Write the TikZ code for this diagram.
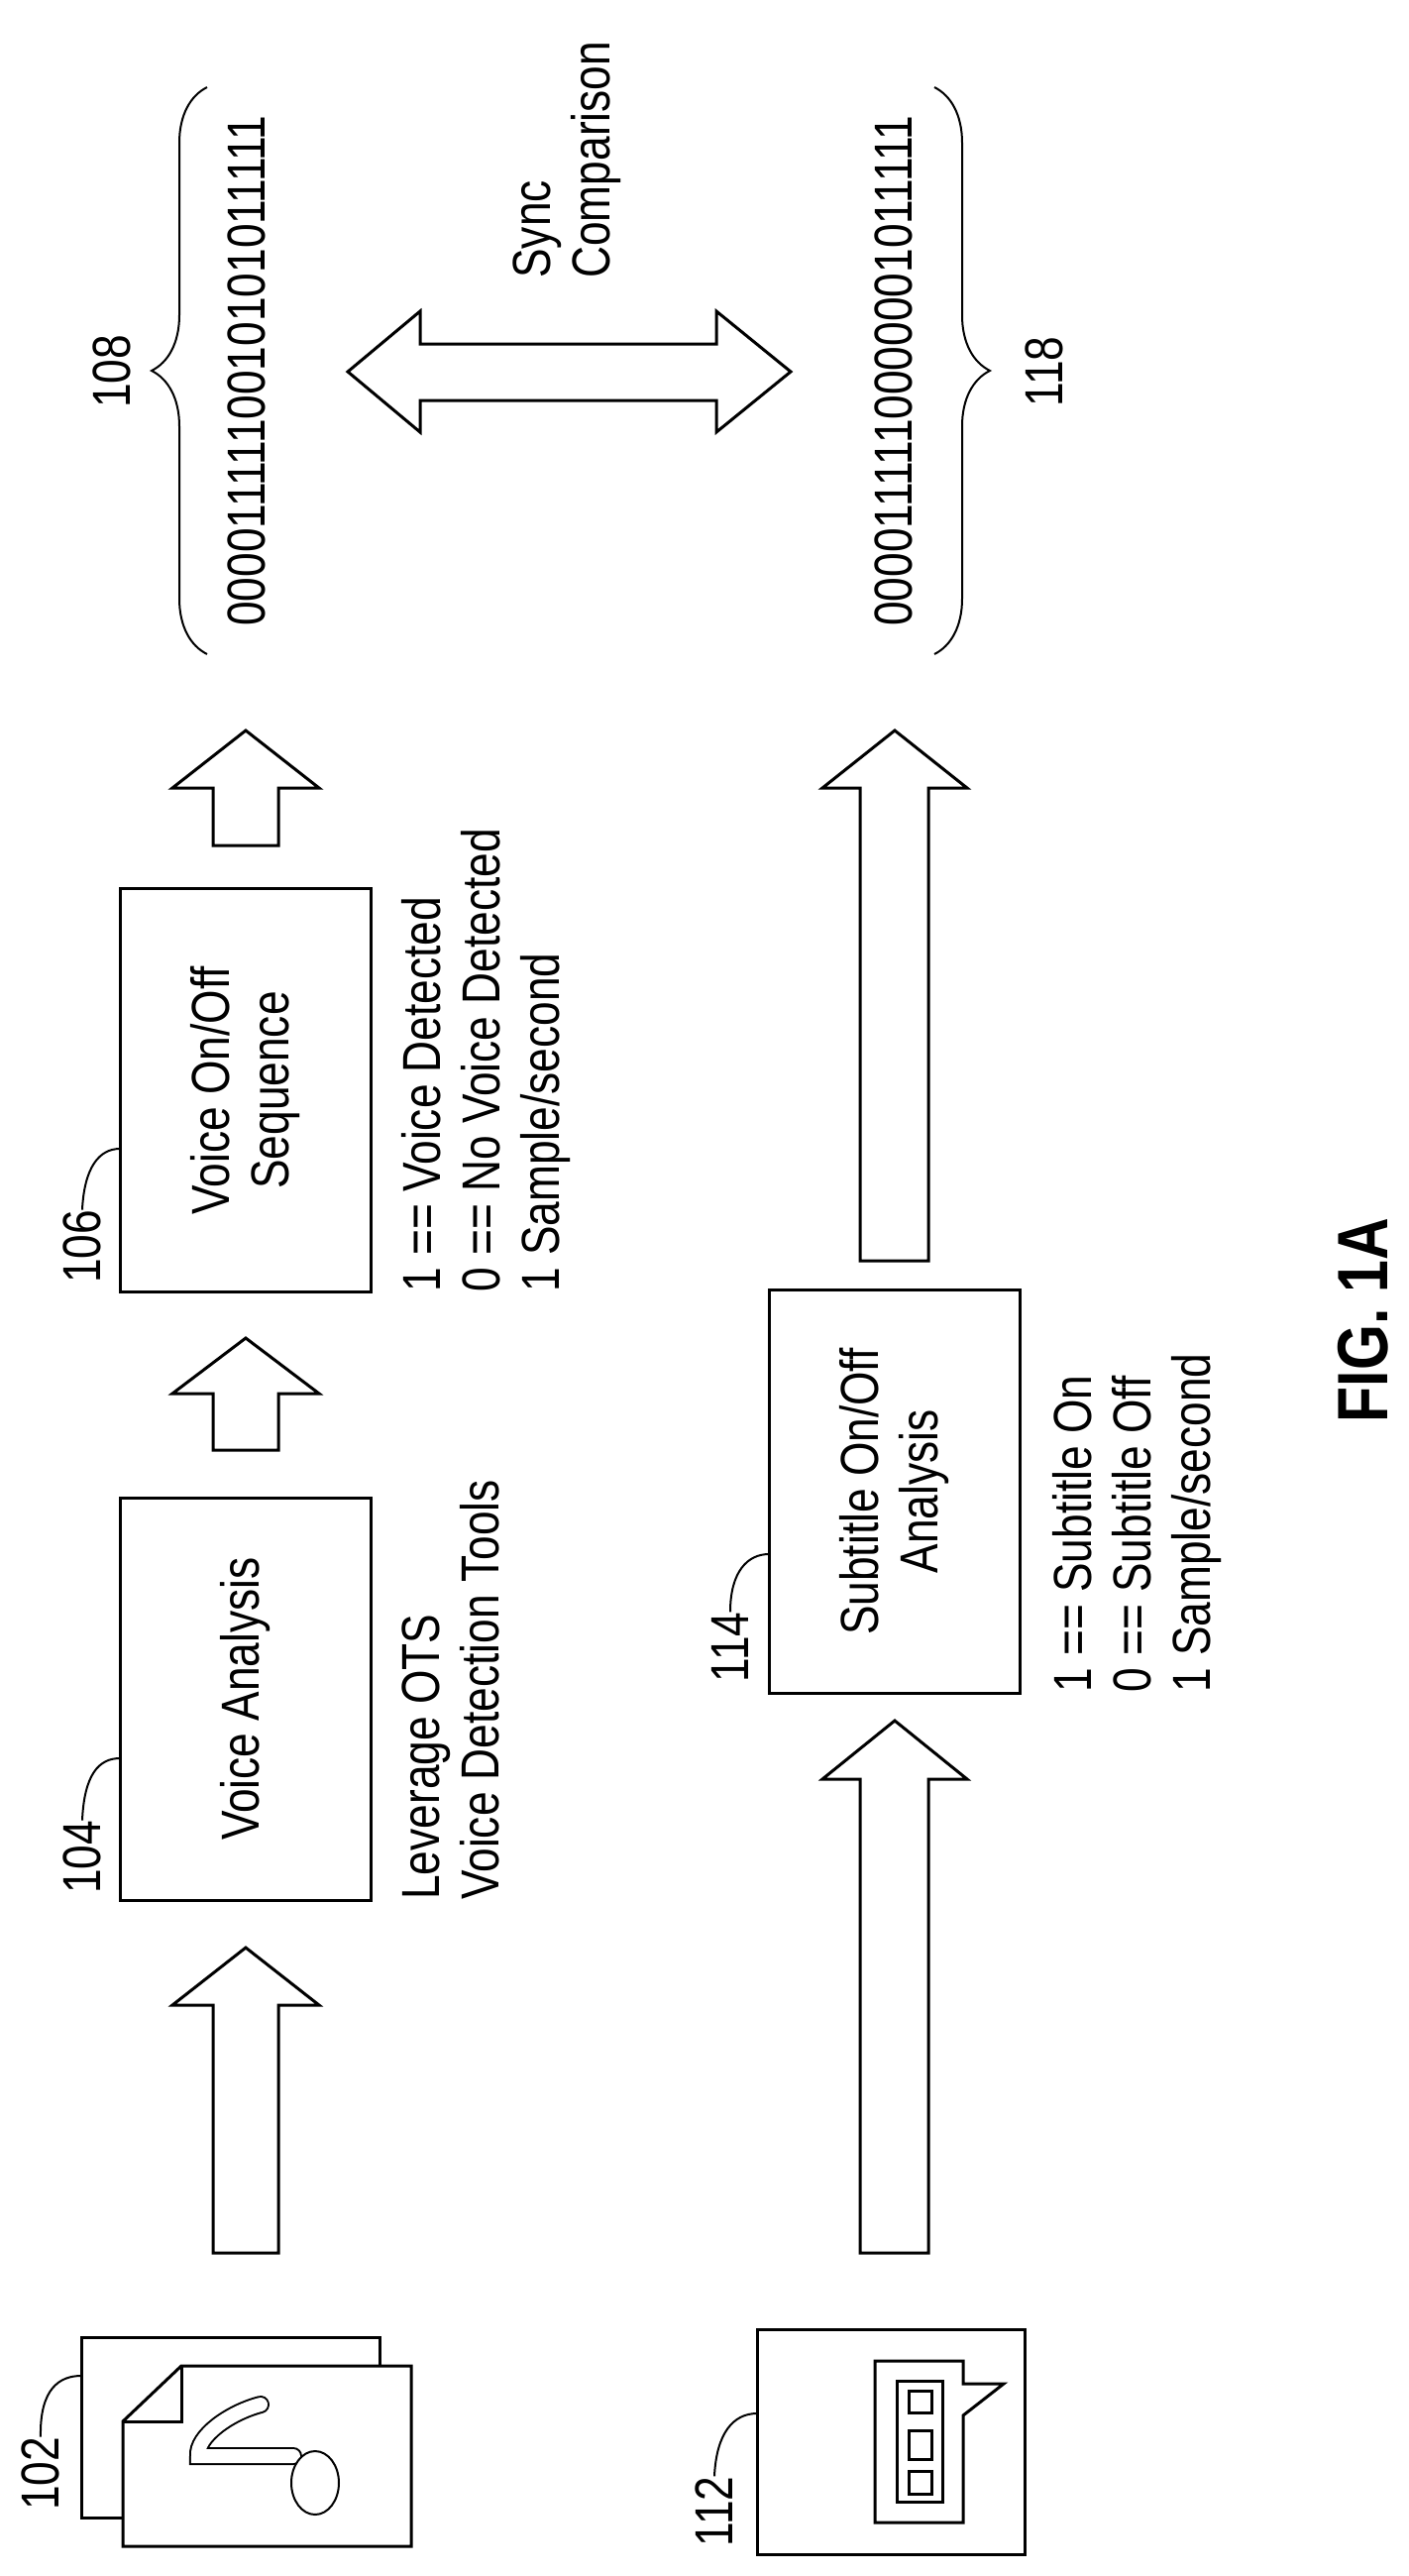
\documentclass[tikz,border=0pt]{standalone}
\usepackage{fontspec}
\setmainfont{Liberation Sans}[FakeStretch=0.82]
\usetikzlibrary{decorations.pathreplacing}
\begin{document}
\begin{tikzpicture}[x=0.5pt,y=-0.5pt,
    txt/.style={rotate=90,inner sep=0pt,font=\fontsize{27}{30}\selectfont},
    box/.style={draw,line width=1.5pt,rotate=90,align=center,
        font=\fontsize{27}{30}\selectfont},
    blk/.style={draw,line width=1.5pt,fill=white,line join=miter},
    lead/.style={line width=1pt}]
\useasboundingbox (0,0) rectangle (1421,2599);
                % boxes
                \node[box,minimum width=203pt,minimum height=126.5pt] (voice) at(248,1714){Voice Analysis};
                \node[box,minimum width=203.5pt,minimum height=126.5pt] (onoff) at(248,1100){Voice On/Off\\Sequence};
                \node[box,minimum width=203.5pt,minimum height=126.5pt] (subtitle) at(903,1505){Subtitle On/Off\\Analysis};
                % reference numerals
                \node[txt] (l102) at(41,2496){102};
                \node[txt] (l104) at(83,1874){104};
                \node[txt] (l106) at(83,1258){106};
                \node[txt] (l112) at(721,2534){112};
                \node[txt] (l114) at(737,1662){114};
                \node[txt] (l108) at(113,375){108};
                \node[txt] (l118) at(1054,375){118};
                \draw[lead] (l102.east) .. controls (40,2410) and (60,2397) .. (82,2397);
                \draw[lead] (l104.east) .. controls (85,1790) and (100,1774) .. (121,1774);
                \draw[lead] (l106.east) .. controls (85,1178) and (100,1159) .. (121,1159);
                \draw[lead] (l112.east) .. controls (723,2455) and (740,2435) .. (764,2435);
                \draw[lead] (l114.east) .. controls (737,1585) and (755,1568) .. (776,1568);
                % notes
                \node[txt,anchor=north west,align=left] (notes1) at(405,1917){Leverage OTS\\Voice Detection Tools};
                \node[txt,anchor=north west,align=left] (notes2) at(405,1304){1 == Voice Detected\\0 == No Voice Detected\\1 Sample/second};
                \node[txt,anchor=north west,align=left] (notes3) at(1062,1708){1 == Subtitle On\\0 == Subtitle Off\\1 Sample/second};
                \node[txt,anchor=north west,align=left] (sync) at(517,281){Sync\\Comparison};
                \node[txt,font=\bfseries\fontsize{36}{40}\selectfont] (fig) at(1376,1332){FIG. 1A};
                % bit sequences
                \node[txt] (seq1) at(249,374){0000111110010101011111};
                \node[txt] (seq2) at(902,374){0000111110000001011111};
                \draw[line width=1pt,decorate,decoration={brace,amplitude=28pt,aspect=0.5}] (209,660) -- (209,88);
                \draw[line width=1pt,decorate,decoration={brace,amplitude=28pt,aspect=0.5}] (943,88) -- (943,660);
                % block arrows
                \draw[blk] (215,2273)--(215,2023)--(174,2023)--(248,1965)--(322,2023)--(281,2023)--(281,2273)--cycle;
                \draw[blk] (215,1463)--(215,1406)--(174,1406)--(248,1350)--(322,1406)--(281,1406)--(281,1463)--cycle;
                \draw[blk] (215,853)--(215,795)--(174,795)--(248,737)--(322,795)--(281,795)--(281,853)--cycle;
                \draw[blk] (868,2273)--(868,1795)--(830,1795)--(903,1736)--(976,1795)--(937,1795)--(937,2273)--cycle;
                \draw[blk] (868,1272)--(868,795)--(830,795)--(903,737)--(976,795)--(937,795)--(937,1272)--cycle;
                \draw[blk] (351,375)--(424,314)--(424,347)--(723,347)--(723,314)--(798,375)--(723,436)--(723,404)--(424,404)--(424,436)--cycle;
                % audio file icon
                \draw[blk] (82,2358) rectangle (383,2540);
                \draw[blk] (183,2387)--(415,2387)--(415,2569)--(124,2569)--(124,2443)--cycle;
                \draw[line width=1.5pt] (183,2387)--(183,2443)--(124,2443);
                \draw[line width=1pt,double=white,double distance=7pt,line cap=round] (263,2426) .. controls (232,2434) and (198,2458) .. (200,2478) -- (296,2478);
                \draw[line width=1pt,fill=white] (318,2505) ellipse (12pt and 16pt);
                % subtitle icon
                \draw[blk] (764,2350) rectangle (1034,2577);
                \draw[blk] (883,2382)--(972,2382)--(972,2405)--(1013,2405)--(972,2437)--(972,2545)--(883,2545)--cycle;
                \draw[blk] (905,2402) rectangle (951,2524);
                \foreach \a/\b in {2412/2434,2452/2481,2493/2516}
                    \draw[blk] (917,\a) rectangle (940,\b);
\end{tikzpicture}
\end{document}
